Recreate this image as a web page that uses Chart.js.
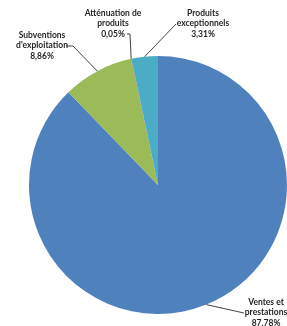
<!DOCTYPE html>
<html><head><meta charset="utf-8">
<script src="https://cdn.jsdelivr.net/npm/chart.js@4/dist/chart.umd.min.js"></script>
<style>html,body{margin:0;padding:0;background:#fff;}canvas{display:block;}</style>
</head><body>
<canvas id="c" width="287" height="326"></canvas>
<script>
const categories = [["Ventes et","prestations"],["Subventions","d'exploitation"],["Atténuation de","produits"],["Produits","exceptionnels"]];
const values = [87.78, 8.86, 0.05, 3.31];
const pctLabels = ["87.78%", "8,86%", "0,05%", "3,31%"];
const colors = ["#4F81BD", "#9BBB59", "#C0504D", "#4BACC6"];

// label layout: text center x, first line y, leader path points (from label side)
const labelLayout = [
  {x: 266, y: 302, path: [[244, 313]]},
  {x: 42, y: 35, path: [[66, 46], [73, 46]]},
  {x: 113, y: 13, path: [[127, 34], [130, 34]]},
  {x: 203, y: 13, path: [[176, 24]]}
];

const labelPlugin = {
  id: 'labels',
  afterDraw(chart) {
    const ctx = chart.ctx;
    const meta = chart.getDatasetMeta(0);
    ctx.save();
    ctx.font = 'bold 8.5px Lato';
    ctx.fillStyle = '#262626';
    ctx.textAlign = 'center';
    ctx.textBaseline = 'middle';
    meta.data.forEach((arc, i) => {
      const L = labelLayout[i];
      const mid = (arc.startAngle + arc.endAngle) / 2;
      const ex = arc.x + Math.cos(mid) * arc.outerRadius;
      const ey = arc.y + Math.sin(mid) * arc.outerRadius;
      ctx.beginPath();
      ctx.strokeStyle = '#444';
      ctx.lineWidth = 1;
      const pts = L.path.slice().reverse();
      ctx.moveTo(ex, ey);
      pts.forEach(p => ctx.lineTo(p[0], p[1]));
      ctx.stroke();
      const lines = categories[i].concat([pctLabels[i]]);
      lines.forEach((t, k) => ctx.fillText(t, L.x, L.y + k * 10.5));
    });
    ctx.restore();
  }
};

new Chart(document.getElementById('c'), {
  type: 'pie',
  data: {
    labels: categories.map(c => c.join(' ')),
    datasets: [{ data: values, backgroundColor: colors, borderWidth: 0 }]
  },
  options: {
    responsive: false,
    animation: false,
    layout: { padding: { left: 29, right: 0, top: 56, bottom: 12 } },
    plugins: { legend: { display: false }, tooltip: { enabled: false } }
  },
  plugins: [labelPlugin]
});
</script>
</body></html>
